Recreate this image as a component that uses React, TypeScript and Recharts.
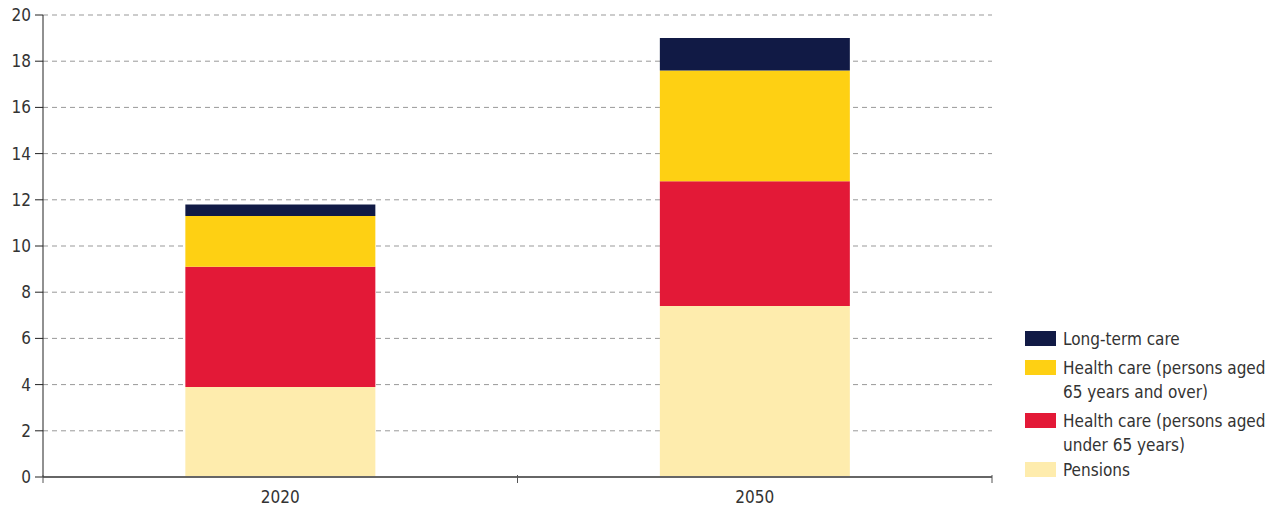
import React from 'react'
import { BarChart, Bar, CartesianGrid, XAxis, YAxis } from 'recharts'

const years = ['2020', '2050']
const pensions = [3.9, 7.4]
const healthUnder65 = [5.2, 5.4]
const health65Over = [2.2, 4.8]
const longTermCare = [0.5, 1.4]
const yTicks = [0, 2, 4, 6, 8, 10, 12, 14, 16, 18, 20]

const data = years.map((year, i) => ({
  year,
  pensions: pensions[i],
  healthUnder65: healthUnder65[i],
  health65Over: health65Over[i],
  longTermCare: longTermCare[i],
}))

const series = [
  { key: 'longTermCare', color: '#111a45', label: ['Long-term care'] },
  { key: 'health65Over', color: '#fed013', label: ['Health care (persons aged', '65 years and over)'] },
  { key: 'healthUnder65', color: '#e31937', label: ['Health care (persons aged', 'under 65 years)'] },
  { key: 'pensions', color: '#feecad', label: ['Pensions'] },
]

const font = '"Liberation Sans Narrow", "DejaVu Sans Condensed", Roboto, sans-serif'

function LegendBox() {
  return (
    <div style={{ position: 'absolute', left: 1025, top: 327, width: 257, fontFamily: font, fontSize: 17, color: '#333', lineHeight: '24px' }}>
      {series.map((s, i) => (
        <div key={s.key} style={{ display: 'flex', alignItems: 'flex-start', marginBottom: i === 2 ? 1 : 5 }}>
          <div style={{ width: 31, height: 15, background: s.color, marginTop: 4, marginRight: 7, flexShrink: 0 }} />
          <div>
            {s.label.map(l => <div key={l}>{l}</div>)}
          </div>
        </div>
      ))}
    </div>
  )
}

// category label plus tick marks on the band edges
function YearTick(props: any) {
  const { x, y, payload } = props
  const half = payload && payload.offset ? payload.offset : 0
  return (
    <g>
      <line x1={x - half} x2={x - half} y1={y - 20} y2={y - 12} stroke="#555" />
      {payload.index === years.length - 1 && (
        <line x1={x + half} x2={x + half} y1={y - 20} y2={y - 12} stroke="#555" />
      )}
      <text x={x} y={y} dy={8} textAnchor="middle" fill="#333" fontSize={17} fontFamily={font}>
        {payload.value}
      </text>
    </g>
  )
}

export default function App() {
  return (
    <div style={{ position: 'absolute', left: 0, top: 0, width: 1282, height: 511, background: '#fff' }}>
      <BarChart width={1000} height={511} data={data} margin={{ top: 15, right: 8, bottom: 4, left: 0 }} barCategoryGap="30%">
        <CartesianGrid vertical={false} stroke="#999" strokeDasharray="5 4" />
        <XAxis
          dataKey="year"
          height={30}
          axisLine={{ stroke: '#666', strokeWidth: 2 }}
          tickLine={false}
          tickMargin={12}
          tick={<YearTick />}
        />
        <YAxis
          width={43}
          domain={[0, 20]}
          ticks={yTicks}
          interval={0}
          tickSize={8}
          tickMargin={4}
          axisLine={{ stroke: '#222' }}
          tickLine={{ stroke: '#222' }}
          tick={{ fill: '#333', fontSize: 17, fontFamily: font }}
        />
        <Bar dataKey="pensions" stackId="a" fill="#feecad" isAnimationActive={false} />
        <Bar dataKey="healthUnder65" stackId="a" fill="#e31937" isAnimationActive={false} />
        <Bar dataKey="health65Over" stackId="a" fill="#fed013" isAnimationActive={false} />
        <Bar dataKey="longTermCare" stackId="a" fill="#111a45" isAnimationActive={false} />
      </BarChart>
      <LegendBox />
    </div>
  )
}
